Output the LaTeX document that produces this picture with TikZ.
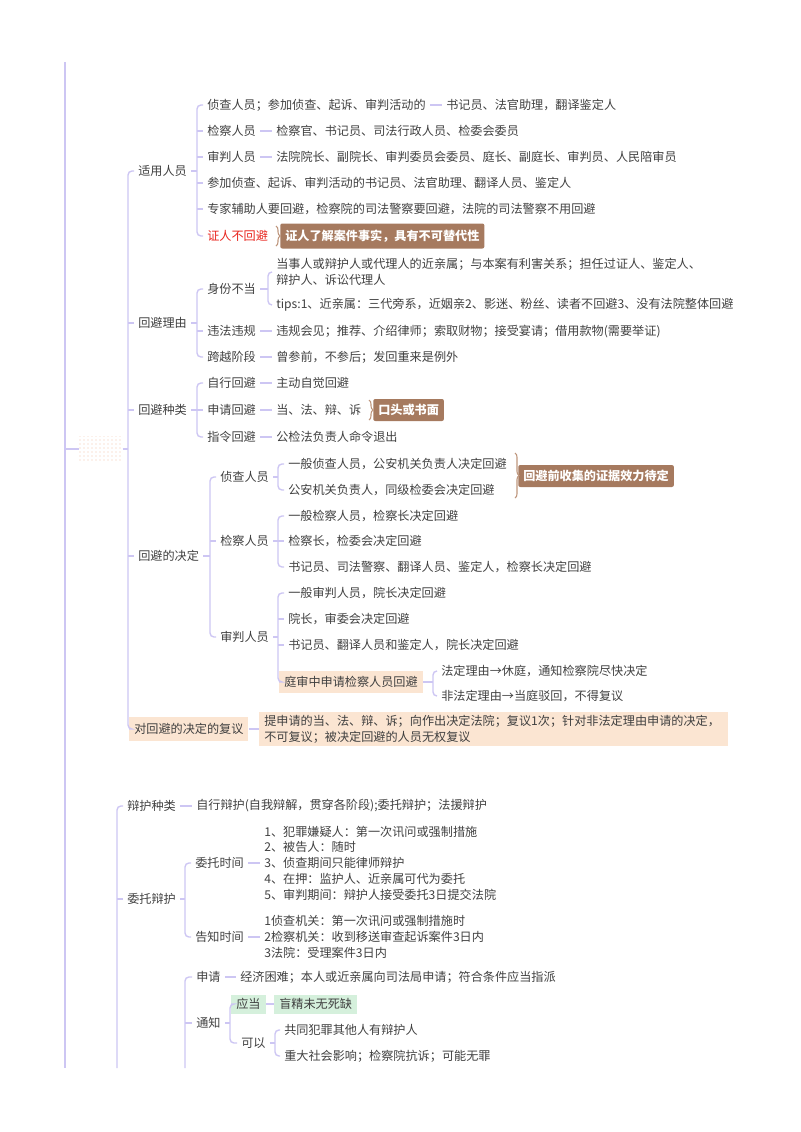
\documentclass[tikz,border=0pt]{standalone}
\usepackage{fontspec}
\newfontfamily\cjk{Noto Sans CJK SC}
\usetikzlibrary{patterns,decorations.pathreplacing}
\definecolor{tx}{RGB}{64,64,64}
\definecolor{linec}{RGB}{205,198,243}
\definecolor{brownbox}{RGB}{166,122,95}
\definecolor{bracec}{RGB}{190,150,125}
\definecolor{peach}{RGB}{251,229,210}
\definecolor{greenbg}{RGB}{213,240,220}
\definecolor{redtx}{RGB}{232,37,30}
\definecolor{dotc}{RGB}{243,196,170}
\begin{document}
\begin{tikzpicture}[x=0.75pt,y=-0.75pt,
  t/.style={font=\cjk\fontsize{9.1pt}{11.8pt}\selectfont, text=tx, anchor=west, xshift=-3pt, inner xsep=3pt, inner ysep=2pt, align=left},
  boxed/.style={t, xshift=0pt, inner xsep=3.75pt, minimum height=16.5pt},
  brownnode/.style={boxed, fill=brownbox, text=white, font=\cjk\bfseries\fontsize{9.1pt}{11.8pt}\selectfont, rounded corners=1.5pt},
  peachnode/.style={boxed, fill=peach},
  greennode/.style={boxed, fill=greenbg, minimum height=14.25pt},
  rednode/.style={t, text=redtx},
  rootbox/.style={anchor=west, minimum width=32.25pt, minimum height=19.5pt, pattern=dots, pattern color=dotc, draw=none, inner sep=0pt},
  conn/.style={draw=linec, line width=1.05pt},
  bk/.style={conn, rounded corners=3pt},
  bracestyle/.style={draw=bracec, line width=0.8pt, decorate, decoration={brace, amplitude=3pt}}
]
\useasboundingbox (0,0) rectangle (800,1132);

% ---------------- root and left line
\coordinate (Ltop) at (65,62);
\coordinate (Lbot) at (65,1068);
\node[rootbox] (root) at (79,449) {};
\draw[conn] (Ltop) -- (Lbot);
\draw[conn] (root.west -| Ltop) -- (root.west);

% ---------------- section 1, level 1
\node[t] (n1) at (138,171) {适用人员};
\node[t] (n2) at (138,323) {回避理由};
\node[t] (n3) at (138,410) {回避种类};
\node[t] (n4) at (138,556) {回避的决定};
\node[peachnode, minimum height=18pt] (n5) at (133,729) {对回避的决定的复议};

\coordinate (J0) at (128,449);
\draw[conn] (root.east) -- (J0);
\draw[bk] (n1.west) -| (J0) |- (n5.west);
\foreach \c in {n2,n3,n4} \draw[conn] (\c.west -| J0) -- (\c.west);

% ---------------- 适用人员
\node[t] (a1) at (207,105) {侦查人员；参加侦查、起诉、审判活动的};
\node[t] (a1c) at (446,105) {书记员、法官助理，翻译鉴定人};
\node[t] (a2) at (207,131) {检察人员};
\node[t] (a2c) at (276,131) {检察官、书记员、司法行政人员、检委会委员};
\node[t] (a3) at (207,157) {审判人员};
\node[t] (a3c) at (276,157) {法院院长、副院长、审判委员会委员、庭长、副庭长、审判员、人民陪审员};
\node[t] (a4) at (207,183) {参加侦查、起诉、审判活动的书记员、法官助理、翻译人员、鉴定人};
\node[t] (a5) at (207,209) {专家辅助人要回避，检察院的司法警察要回避，法院的司法警察不用回避};
\node[rednode] (a6) at (207,236) {证人不回避};
\node[brownnode, minimum height=18.75pt] (a6c) at (284,236) {证人了解案件事实，具有不可替代性};

\coordinate (J1) at (197,171);
\draw[conn] (n1.east) -- (J1);
\draw[bk] (a1.west) -| (J1) |- (a6.west);
\foreach \c in {a2,a3,a4,a5} \draw[conn] (\c.west -| J1) -- (\c.west);
\draw[conn] (a1.east) -- (a1c.west);
\draw[conn] (a2.east) -- (a2c.west);
\draw[conn] (a3.east) -- (a3c.west);
\draw[bracestyle] (276,226) -- (276,246);

% ---------------- 回避理由
\node[t] (b1) at (207,289) {身份不当};
\node[t] (b1a) at (276,272) {当事人或辩护人或代理人的近亲属；与本案有利害关系；担任过证人、鉴定人、\\辩护人、诉讼代理人};
\node[t] (b1b) at (276,305) {tips:1、近亲属：三代旁系，近姻亲2、影迷、粉丝、读者不回避3、没有法院整体回避};
\node[t] (b2) at (207,331) {违法违规};
\node[t] (b2c) at (276,331) {违规会见；推荐、介绍律师；索取财物；接受宴请；借用款物(需要举证)};
\node[t] (b3) at (207,357) {跨越阶段};
\node[t] (b3c) at (276,357) {曾参前，不参后；发回重来是例外};

\coordinate (J2) at (197,323);
\draw[conn] (n2.east) -- (J2);
\draw[bk] (b1.west) -| (J2) |- (b3.west);
\draw[conn] (b2.west -| J2) -- (b2.west);
\coordinate (J3) at (268,289);
\draw[conn] (b1.east) -- (J3);
\draw[bk] (b1a.west) -| (J3) |- (b1b.west);
\draw[conn] (b2.east) -- (b2c.west);
\draw[conn] (b3.east) -- (b3c.west);

% ---------------- 回避种类
\node[t] (c1) at (207,383) {自行回避};
\node[t] (c1c) at (276,383) {主动自觉回避};
\node[t] (c2) at (207,410) {申请回避};
\node[t] (c2c) at (276,410) {当、法、辩、诉};
\node[brownnode] (c2d) at (377,410) {口头或书面};
\node[t] (c3) at (207,437) {指令回避};
\node[t] (c3c) at (276,437) {公检法负责人命令退出};

\coordinate (J4) at (197,410);
\draw[conn] (n3.east) -- (J4);
\draw[bk] (c1.west) -| (J4) |- (c3.west);
\draw[conn] (c2.west -| J4) -- (c2.west);
\draw[conn] (c1.east) -- (c1c.west);
\draw[conn] (c2.east) -- (c2c.west);
\draw[conn] (c3.east) -- (c3c.west);
\draw[bracestyle] (369,400) -- (369,420);

% ---------------- 回避的决定
\node[t] (d1) at (220,477) {侦查人员};
\node[t] (d1a) at (288,464) {一般侦查人员，公安机关负责人决定回避};
\node[t] (d1b) at (288,490) {公安机关负责人，同级检委会决定回避};
\node[brownnode] (d1c) at (522,476) {回避前收集的证据效力待定};
\node[t] (d2) at (220,541) {检察人员};
\node[t] (d2a) at (288,516) {一般检察人员，检察长决定回避};
\node[t] (d2b) at (288,541) {检察长，检委会决定回避};
\node[t] (d2c) at (288,567) {书记员、司法警察、翻译人员、鉴定人，检察长决定回避};
\node[t] (d3) at (220,637) {审判人员};
\node[t] (d3a) at (288,593) {一般审判人员，院长决定回避};
\node[t] (d3b) at (288,619) {院长，审委会决定回避};
\node[t] (d3c) at (288,645) {书记员、翻译人员和鉴定人，院长决定回避};
\node[peachnode] (d3d) at (283,682) {庭审中申请检察人员回避};
\node[t] (d3d1) at (441,671) {法定理由→休庭，通知检察院尽快决定};
\node[t] (d3d2) at (441,696) {非法定理由→当庭驳回，不得复议};

\coordinate (J5) at (210,556);
\draw[conn] (n4.east) -- (J5);
\draw[bk] (d1.west) -| (J5) |- (d3.west);
\draw[conn] (d2.west -| J5) -- (d2.west);
\coordinate (J6) at (278,477);
\draw[conn] (d1.east) -- (J6);
\draw[bk] (d1a.west) -| (J6) |- (d1b.west);
\draw[bracestyle] (515,453) -- (515,498);
\coordinate (J7) at (278,541);
\draw[conn] (d2.east) -- (J7);
\draw[bk] (d2a.west) -| (J7) |- (d2c.west);
\draw[conn] (d2b.west -| J7) -- (d2b.west);
\coordinate (J8) at (278,637);
\draw[conn] (d3.east) -- (J8);
\draw[bk] (d3a.west) -| (J8) |- (d3d.west);
\foreach \c in {d3b,d3c} \draw[conn] (\c.west -| J8) -- (\c.west);
\coordinate (J9) at (433,682);
\draw[conn] (d3d.east) -- (J9);
\draw[bk] (d3d1.west) -| (J9) |- (d3d2.west);

% ---------------- 复议
\node[peachnode, minimum height=25.5pt, text width=344pt] (n5c) at (263,729) {提申请的当、法、辩、诉；向作出决定法院；复议1次；针对非法定理由申请的决定，\\不可复议；被决定回避的人员无权复议};
\draw[conn] (n5.east) -- (n5c.west);

% ---------------- section 2
\coordinate (S2bot) at (117,1068);
\node[t] (s1) at (127,806) {辩护种类};
\node[t] (s1c) at (196,806) {自行辩护(自我辩解，贯穿各阶段);委托辩护；法援辩护};
\node[t] (s2) at (127,899) {委托辩护};
\draw[bk] (s1.west) -| (S2bot);
\draw[conn] (s2.west -| S2bot) -- (s2.west);
\draw[conn] (s1.east) -- (s1c.west);

\node[t] (s2a) at (195,863) {委托时间};
\node[t] (s2ac) at (264,863) {1、犯罪嫌疑人：第一次讯问或强制措施\\2、被告人：随时\\3、侦查期间只能律师辩护\\4、在押：监护人、近亲属可代为委托\\5、审判期间：辩护人接受委托3日提交法院};
\node[t] (s2b) at (195,937) {告知时间};
\node[t] (s2bc) at (264,937) {1侦查机关：第一次讯问或强制措施时\\2检察机关：收到移送审查起诉案件3日内\\3法院：受理案件3日内};
\coordinate (J10) at (185,899);
\draw[conn] (s2.east) -- (J10);
\draw[bk] (s2a.west) -| (J10) |- (s2b.west);
\draw[conn] (s2a.east) -- (s2ac.west);
\draw[conn] (s2b.east) -- (s2bc.west);

\coordinate (S3bot) at (185,1068);
\node[t] (s3a) at (196,977) {申请};
\node[t] (s3ac) at (240,977) {经济困难；本人或近亲属向司法局申请；符合条件应当指派};
\node[t] (s3b) at (196,1023) {通知};
\draw[bk] (s3a.west) -| (S3bot);
\draw[conn] (s3b.west -| S3bot) -- (s3b.west);
\draw[conn] (s3a.east) -- (s3ac.west);

\node[greennode] (s3b1) at (235,1004) {应当};
\node[greennode] (s3b1c) at (278,1004) {盲精未无死缺};
\node[t] (s3b2) at (241,1043) {可以};
\node[t] (s3b2a) at (284,1030) {共同犯罪其他人有辩护人};
\node[t] (s3b2b) at (284,1056) {重大社会影响；检察院抗诉；可能无罪};
\coordinate (J11) at (230,1023);
\draw[conn] (s3b.east) -- (J11);
\draw[bk] (s3b1.west) -| (J11) |- (s3b2.west);
\draw[conn] (s3b1.east) -- (s3b1c.west);
\coordinate (J12) at (275,1043);
\draw[conn] (s3b2.east) -- (J12);
\draw[bk] (s3b2a.west) -| (J12) |- (s3b2b.west);
\end{tikzpicture}
\end{document}
